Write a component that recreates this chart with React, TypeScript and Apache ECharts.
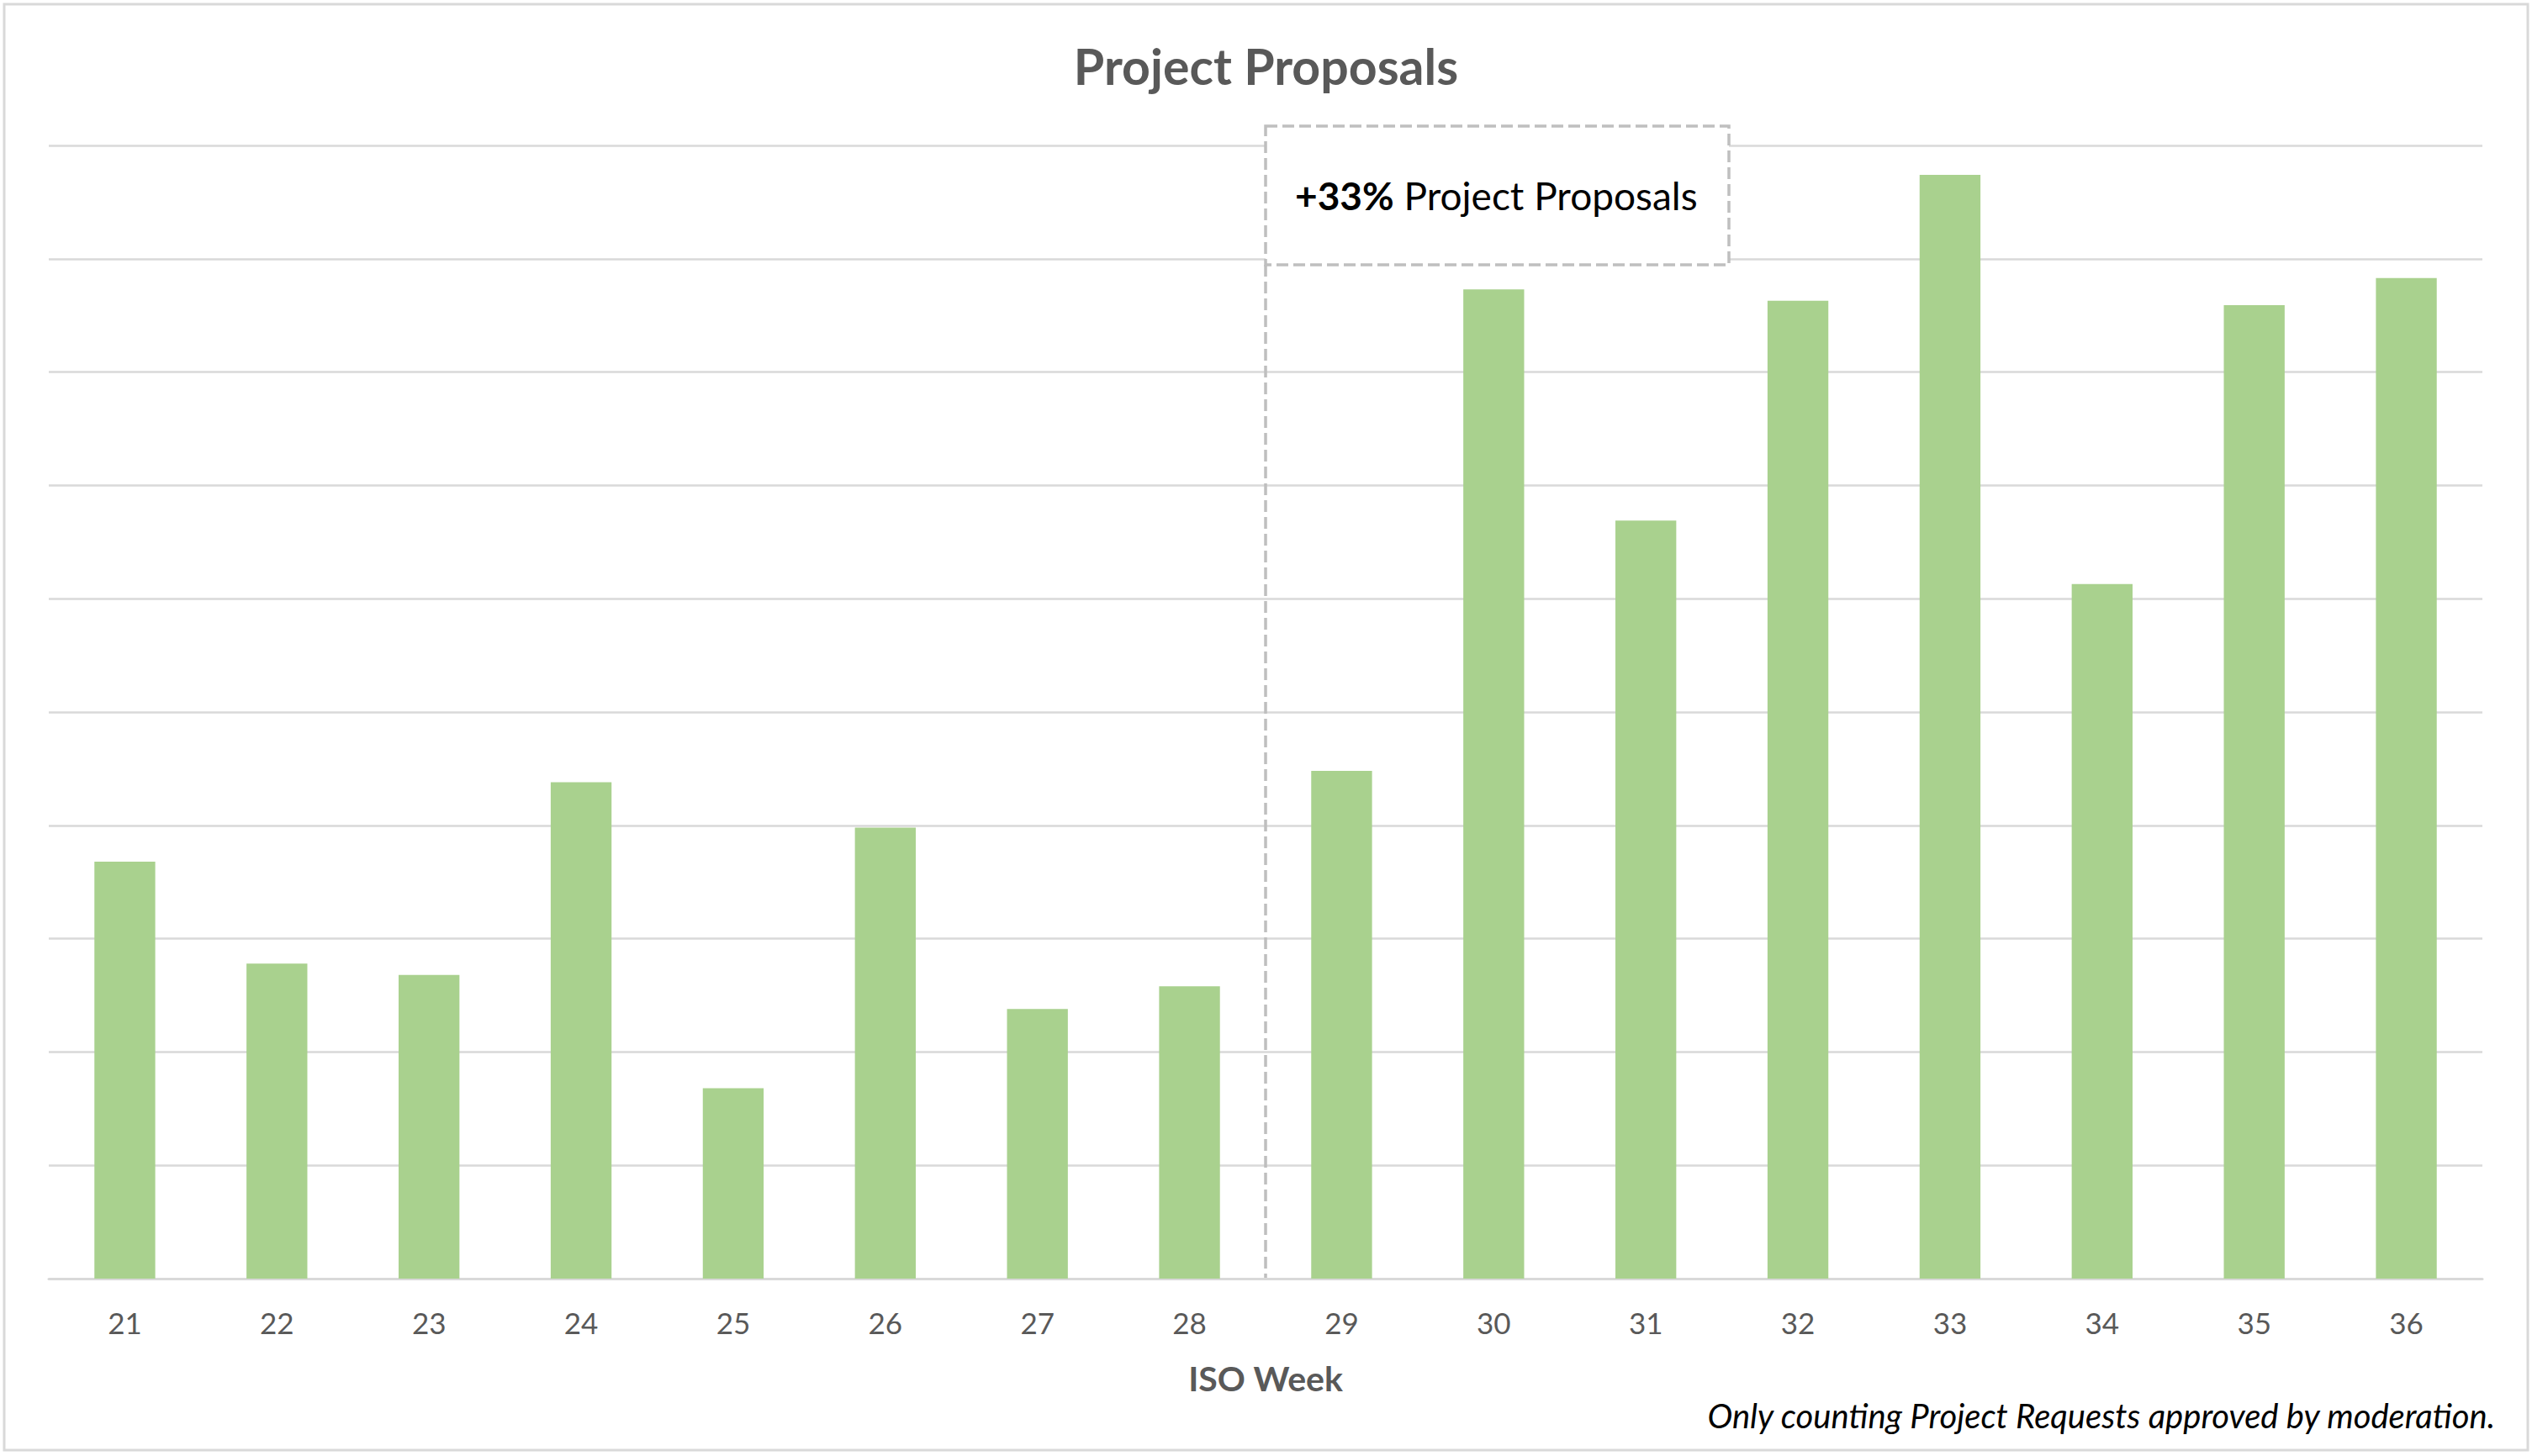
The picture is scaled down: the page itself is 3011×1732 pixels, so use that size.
import React, { useEffect, useRef } from "react";
import * as echarts from "echarts";

const weeks = ["21", "22", "23", "24", "25", "26", "27", "28", "29", "30", "31", "32", "33", "34", "35", "36"];
const proposals = [36.8, 27.8, 26.8, 43.8, 16.8, 39.8, 23.8, 25.8, 44.8, 87.3, 66.9, 86.3, 97.4, 61.3, 85.9, 88.3];
const yTicks = { min: 0, max: 100, interval: 10 };
const titleText = "Project Proposals";
const axisName = "ISO Week";
const noteText = "Only counting Project Requests approved by moderation.";
const annotationBold = "+33%";
const annotationRest = " Project Proposals";
const splitAfterWeek = "28";

const FONT = 'Lato, "Open Sans", sans-serif';

export default function App() {
  const ref = useRef<HTMLDivElement>(null);
  useEffect(() => {
    if (!ref.current) return;
    const chart = echarts.init(ref.current, null, { renderer: "svg" });
    const W = ref.current.clientWidth;
    const H = ref.current.clientHeight;
    chart.setOption({
      animation: false,
      backgroundColor: "#ffffff",
      title: {
        text: titleText,
        left: "center",
        top: 44,
        textStyle: { fontFamily: FONT, fontSize: 59, fontWeight: "bold", color: "#595959" },
      },
      grid: { left: 58, right: 59, top: 173, bottom: 211, containLabel: false },
      xAxis: {
        type: "category",
        data: weeks,
        name: axisName,
        nameLocation: "middle",
        nameGap: 98,
        nameTextStyle: { fontFamily: FONT, fontSize: 41, fontWeight: "bold", color: "#595959" },
        axisLine: { show: true, lineStyle: { color: "#D9D9D9", width: 3 } },
        axisTick: { show: false },
        axisLabel: { fontFamily: FONT, fontSize: 35, color: "#595959", margin: 34 },
      },
      yAxis: {
        type: "value",
        min: yTicks.min,
        max: yTicks.max,
        interval: yTicks.interval,
        axisLine: { show: false },
        axisTick: { show: false },
        axisLabel: { show: false },
        splitLine: { show: true, lineStyle: { color: "#D9D9D9", width: 2.5 } },
      },
      series: [
        {
          type: "bar",
          data: proposals,
          barWidth: "40%",
          itemStyle: { color: "#A9D18E" },
        },
      ],
    });

    const idx = weeks.indexOf(splitAfterWeek);
    const xa = chart.convertToPixel({ xAxisIndex: 0 }, weeks[idx]) as number;
    const xb = chart.convertToPixel({ xAxisIndex: 0 }, weeks[idx + 1]) as number;
    const bx = (xa + xb) / 2;
    const axisY = chart.convertToPixel({ yAxisIndex: 0 }, 0) as number;
    const boxTop = 150;
    const boxH = 165;
    const boxW = 551;
    const dash = { stroke: "#BFBFBF", lineWidth: 3.5, lineDash: [14, 6], fill: null };

    chart.setOption({
      graphic: [
        {
          type: "rect",
          shape: { x: 5, y: 5, width: W - 10, height: H - 12 },
          style: { fill: null, stroke: "#D9D9D9", lineWidth: 3 },
          silent: true,
          z: -1,
        },
        {
          type: "line",
          shape: { x1: bx, y1: boxTop + boxH, x2: bx, y2: axisY },
          style: dash,
          silent: true,
        },
        {
          type: "rect",
          shape: { x: bx, y: boxTop, width: boxW, height: boxH },
          style: { ...dash, fill: "#ffffff" },
          silent: true,
        },
        {
          type: "text",
          x: bx + 35,
          y: boxTop + boxH / 2,
          style: {
            text: "{b|" + annotationBold + "}{r|" + annotationRest + "}",
            verticalAlign: "middle",
            align: "left",
            rich: {
              b: { fontFamily: FONT, fontSize: 46, fontWeight: "bold", fill: "#000000", color: "#000000" },
              r: { fontFamily: FONT, fontSize: 46, fill: "#000000", color: "#000000" },
            },
          },
          silent: true,
        },
        {
          type: "text",
          x: W - 44,
          y: 1684,
          style: {
            text: noteText,
            fontFamily: FONT,
            fontSize: 40,
            fontStyle: "italic",
            fill: "#000000",
            align: "right",
            verticalAlign: "middle",
          },
          silent: true,
        },
      ],
    });
    return () => chart.dispose();
  }, []);
  return (
    <div
      ref={ref}
      style={{ position: "fixed", left: 0, top: 0, width: "100vw", height: "100vh" }}
    />
  );
}
